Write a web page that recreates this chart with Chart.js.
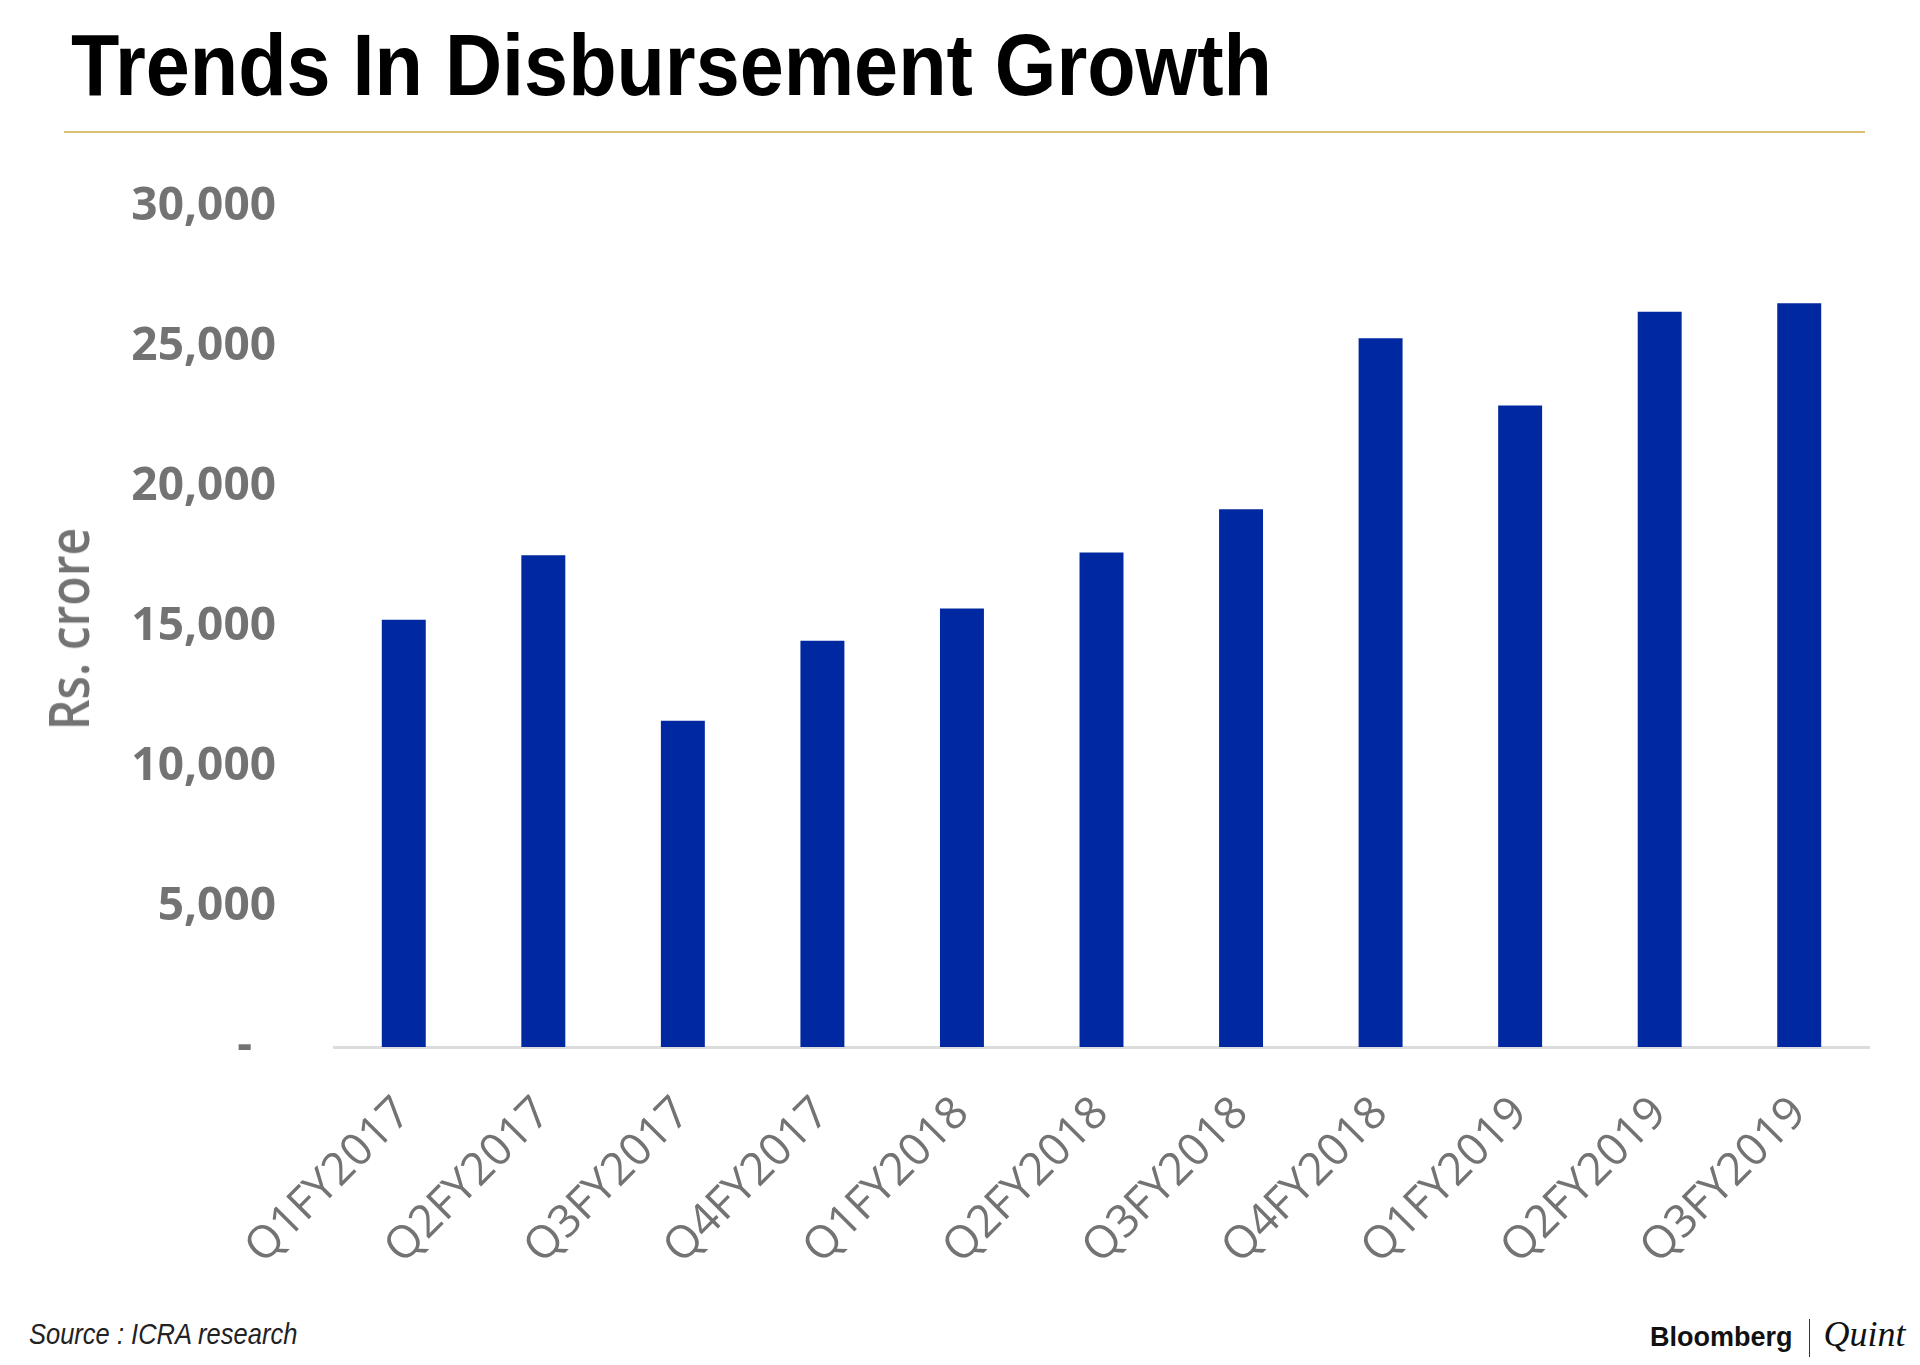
<!DOCTYPE html>
<html>
<head>
<meta charset="utf-8">
<script src="https://cdn.jsdelivr.net/npm/chart.js@4"></script>
<style>
  html, body { margin: 0; padding: 0; background: #fff; }
  body { width: 1920px; height: 1365px; position: relative; overflow: hidden; }
  .title {
    position: absolute; left: 71px; top: 21px;
    font-family: "Liberation Sans", Arial, sans-serif;
    font-weight: bold; font-size: 87px; line-height: 1; color: #000;
    white-space: nowrap; transform: scaleX(0.91); transform-origin: 0 0;
  }
  .rule { position: absolute; left: 64px; top: 131px; width: 1801px; height: 2px; background: #dcc077; }
  .wrap { position: absolute; left: 0; top: 121px; width: 1920px; height: 1189px; }
  .ytitle {
    position: absolute; left: 67px; top: 629px; white-space: nowrap;
    font-family: "Open Sans", sans-serif; font-weight: 600; font-size: 56px; line-height: 1;
    color: #737373;
    transform: translate(-50%, -50%) rotate(-90deg) scaleX(0.86);
  }
  .source {
    position: absolute; left: 29px; top: 1319px;
    font-family: "Liberation Sans", Arial, sans-serif;
    font-style: italic; font-size: 30px; line-height: 1; color: #222; white-space: nowrap;
    transform: scaleX(0.85); transform-origin: 0 0;
  }
  .brand { position: absolute; left: 1650px; top: 1316px; white-space: nowrap; line-height: 1; }
  .brand .b { font-family: "Liberation Sans", Arial, sans-serif; font-weight: bold; font-size: 27px; color: #111; }
  .brand .sep { display: inline-block; width: 1px; height: 38px; background: #333; margin: 0 14px 0 16px; vertical-align: -11px; }
  .brand .q { font-family: "Liberation Serif", serif; font-style: italic; font-size: 36px; color: #111; }
</style>
</head>
<body>
<div class="title">Trends In Disbursement Growth</div>
<div class="rule"></div>
<div class="wrap"><canvas id="chart"></canvas></div>
<div class="ytitle">Rs. crore</div>
<div class="source">Source : ICRA research</div>
<div class="brand"><span class="b">Bloomberg</span><span class="sep"></span><span class="q">Quint</span></div>

<script>
// quarters on the x axis
const quarters = ['Q1FY2017', 'Q2FY2017', 'Q3FY2017', 'Q4FY2017', 'Q1FY2018', 'Q2FY2018',
  'Q3FY2018', 'Q4FY2018', 'Q1FY2019', 'Q2FY2019', 'Q3FY2019'];
// disbursements, Rs. crore
const disbursements = [15250, 17550, 11650, 14500, 15650, 17650, 19200, 25300, 22900, 26250, 26550];
const yTicks = [0, 5000, 10000, 15000, 20000, 25000, 30000];

const grey = '#737373';

function init() {
  const ctx = document.getElementById('chart').getContext('2d');
  new Chart(ctx, {
    type: 'bar',
    data: {
      labels: quarters,
      datasets: [{
        label: 'Disbursement',
        data: disbursements,
        backgroundColor: '#0028a0',
        borderWidth: 0,
        categoryPercentage: 1,
        barPercentage: 0.315,
      }],
    },
    options: {
      responsive: true,
      maintainAspectRatio: false,
      animation: false,
      layout: { padding: { top: 49, right: 51, bottom: 0, left: 0 } },
      plugins: { legend: { display: false }, tooltip: { enabled: false } },
      scales: {
        x: {
          grid: { display: false, drawTicks: false },
          border: { display: true, color: '#dcdcdc', width: 3 },
          ticks: {
            color: grey,
            font: { family: '"Open Sans", sans-serif', size: 45 },
            minRotation: 45,
            maxRotation: 45,
            padding: 40,
          },
          afterFit: (scale) => { scale.height = 263; },
        },
        y: {
          min: 0,
          max: 30000,
          afterBuildTicks: (scale) => { scale.ticks = yTicks.map(v => ({ value: v })); },
          grid: { display: false, drawTicks: false },
          border: { display: false },
          ticks: {
            color: grey,
            font: { family: '"Open Sans", sans-serif', size: 46, weight: 'bold' },
            padding: 58,
            callback: (v) => v === 0 ? '-  ' : v.toLocaleString('en-US'),
          },
          afterFit: (scale) => { scale.width = 334; },
        },
      },
    },
  });
}

document.addEventListener('DOMContentLoaded', init);
</script>
</body>
</html>
